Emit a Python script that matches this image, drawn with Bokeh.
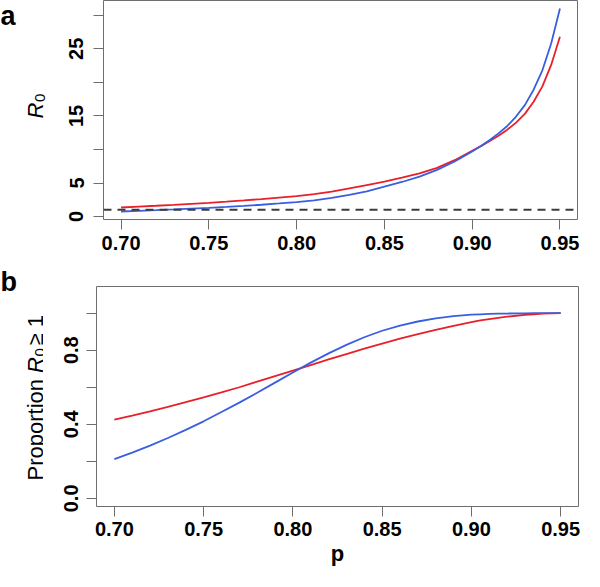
import math
from bokeh.plotting import figure
from bokeh.models import Range1d, FixedTicker, PrintfTickFormatter, BasicTickFormatter, Span
from bokeh.core.properties import value
from bokeh.layouts import column, row
from bokeh.embed import file_html
from bokeh.resources import INLINE

# ---------------- data ----------------
p_values = [0.70, 0.71, 0.72, 0.73, 0.74, 0.75, 0.76, 0.77, 0.78, 0.79,
            0.80, 0.81, 0.82, 0.83, 0.84, 0.85, 0.86, 0.87, 0.88, 0.89,
            0.90, 0.905, 0.91, 0.915, 0.92, 0.925, 0.93, 0.935, 0.94, 0.945, 0.95]

r0_red = [1.35, 1.48, 1.61, 1.75, 1.90, 2.05, 2.22, 2.40, 2.60, 2.82,
          3.05, 3.35, 3.70, 4.20, 4.70, 5.20, 5.80, 6.45, 7.25, 8.40,
          9.80, 10.5, 11.25, 12.05, 12.95, 14.0, 15.3, 17.1, 19.4, 22.6, 26.8]
r0_blue = [0.75, 0.85, 0.95, 1.06, 1.18, 1.30, 1.44, 1.59, 1.76, 1.95,
           2.16, 2.42, 2.78, 3.22, 3.76, 4.45, 5.15, 5.95, 6.95, 8.20,
           9.70, 10.5, 11.4, 12.4, 13.5, 14.9, 16.6, 18.9, 21.8, 25.8, 31.0]

prop_red = [0.425, 0.447, 0.470, 0.494, 0.519, 0.545, 0.572, 0.600, 0.630, 0.660,
            0.690, 0.720, 0.750, 0.779, 0.808, 0.836, 0.862, 0.887, 0.910, 0.932,
            0.952, 0.961, 0.968, 0.975, 0.981, 0.986, 0.991, 0.994, 0.997, 0.999, 1.000]
prop_blue = [0.212, 0.247, 0.285, 0.326, 0.370, 0.416, 0.466, 0.517, 0.570, 0.625,
             0.680, 0.733, 0.783, 0.829, 0.870, 0.905, 0.933, 0.955, 0.972, 0.984,
             0.992, 0.994, 0.996, 0.997, 0.998, 0.999, 0.999, 1.000, 1.000, 1.000, 1.000]

threshold_r0 = 1

x_ticks = [0.70, 0.75, 0.80, 0.85, 0.90, 0.95]
r0_labeled_ticks = [0, 5, 15, 25]
r0_unlabeled_ticks = [10, 20, 30]
prop_labeled_ticks = [0.0, 0.4, 0.8]
prop_unlabeled_ticks = [0.2, 0.6, 1.0]

panel_letters = ["a", "b"]
r0_label_parts = ["R", "0"]
prop_label_parts = ["Proportion", "R", "0", "\u2265 1"]
x_label = "p"

RED = "#e8202a"
BLUE = "#3a5ee0"
GRAY = "#6e6e6e"
FONT = "Liberation Sans"


def style(p, xstandoff, ystandoff):
    p.xgrid.visible = False
    p.ygrid.visible = False
    p.outline_line_color = GRAY
    p.outline_line_width = 1
    p.background_fill_color = "white"
    p.border_fill_color = "white"
    for ax in (p.xaxis[0], p.yaxis[0]):
        ax.axis_line_color = None
        ax.major_tick_in = 0
        ax.major_tick_out = 10
        ax.minor_tick_in = 0
        ax.minor_tick_out = 10
        ax.major_tick_line_color = GRAY
        ax.minor_tick_line_color = GRAY
        ax.major_label_text_font = FONT
        ax.major_label_text_font_style = "bold"
        ax.major_label_text_font_size = "20px"
        ax.major_label_text_color = "black"
    p.xaxis[0].major_label_standoff = xstandoff
    p.yaxis[0].major_label_orientation = "vertical"
    p.yaxis[0].major_label_standoff = ystandoff


def make_strip(width, height):
    s = figure(width=width, height=height, output_backend="svg", toolbar_location=None,
               title=None, x_axis_type=None, y_axis_type=None, frame_align=False,
               x_range=Range1d(0, width), y_range=Range1d(0, height),
               min_border_left=0, min_border_right=0, min_border_top=0, min_border_bottom=0)
    s.outline_line_color = None
    s.xgrid.visible = False
    s.ygrid.visible = False
    return s


# ---------------- label strip, panel a (page x 8..58, y 8..275) ----------------
strip_a = make_strip(50, 267)
strip_a.text(x=[0], y=[252], text=[panel_letters[0]], text_font=value(FONT),
             text_font_style="bold", text_font_size="27px", text_align="left",
             text_baseline="alphabetic", text_color="black")
strip_a.text(x=[35], y=[149], text=[r0_label_parts[0]], angle=math.pi / 2,
             text_font=value(FONT), text_font_style="italic", text_font_size="22px",
             text_align="left", text_baseline="alphabetic", text_color="black")
strip_a.text(x=[39], y=[165.4], text=[r0_label_parts[1]], angle=math.pi / 2,
             text_font=value(FONT), text_font_size="15px",
             text_align="left", text_baseline="alphabetic", text_color="black")

# ---------------- label strip, panel b (page x 8..51, y 275..579) ----------------
strip_b = make_strip(43, 304)
strip_b.text(x=[0], y=[290], text=[panel_letters[1]], text_font=value(FONT),
             text_font_style="bold", text_font_size="27px", text_align="left",
             text_baseline="alphabetic", text_color="black")
strip_b.text(x=[35, 35], y=[91, 226], text=[prop_label_parts[0], prop_label_parts[3]],
             angle=math.pi / 2, text_font=value(FONT), text_font_size="22px",
             text_align="left", text_baseline="alphabetic", text_color="black")
strip_b.text(x=[35], y=[198.6], text=[prop_label_parts[1]], angle=math.pi / 2,
             text_font=value(FONT), text_font_style="italic", text_font_size="22px",
             text_align="left", text_baseline="alphabetic", text_color="black")
strip_b.text(x=[39], y=[215], text=[prop_label_parts[2]], angle=math.pi / 2,
             text_font=value(FONT), text_font_size="15px",
             text_align="left", text_baseline="alphabetic", text_color="black")

# ---------------- panel a ----------------
pa = figure(width=534, height=267, output_backend="svg", toolbar_location=None, title=None,
            frame_align=False,
            x_range=Range1d(0.69, 0.96), y_range=Range1d(-0.44, 32.2),
            min_border_left=53, min_border_right=7, min_border_top=0, min_border_bottom=48)
style(pa, 6, 10)
pa.xaxis[0].ticker = FixedTicker(ticks=x_ticks, minor_ticks=[])
pa.xaxis[0].formatter = PrintfTickFormatter(format="%.2f")
pa.yaxis[0].ticker = FixedTicker(ticks=r0_labeled_ticks, minor_ticks=r0_unlabeled_ticks)
pa.yaxis[0].formatter = BasicTickFormatter()

pa.add_layout(Span(location=threshold_r0, dimension="width", line_color="#3c3c3c",
                   line_width=2, line_dash="8 6"))
pa.line(p_values, r0_red, line_color=RED, line_width=1.8)
pa.line(p_values, r0_blue, line_color=BLUE, line_width=1.8)

# ---------------- panel b ----------------
pb = figure(width=541, height=304, output_backend="svg", toolbar_location=None, title=None,
            frame_align=False,
            x_range=Range1d(0.69, 0.96), y_range=Range1d(-0.044, 1.144),
            min_border_left=53, min_border_right=6, min_border_top=19, min_border_bottom=65)
style(pb, 5, 8)
pb.xaxis[0].ticker = FixedTicker(ticks=x_ticks, minor_ticks=[])
pb.xaxis[0].formatter = PrintfTickFormatter(format="%.2f")
pb.yaxis[0].ticker = FixedTicker(ticks=prop_labeled_ticks, minor_ticks=prop_unlabeled_ticks)
pb.yaxis[0].formatter = PrintfTickFormatter(format="%.1f")
pb.xaxis[0].axis_label = x_label
pb.xaxis[0].axis_label_text_font = FONT
pb.xaxis[0].axis_label_text_font_style = "bold"
pb.xaxis[0].axis_label_text_font_size = "22px"
pb.xaxis[0].axis_label_text_color = "black"
pb.xaxis[0].axis_label_standoff = 2

pb.line(p_values, prop_red, line_color=RED, line_width=1.8)
pb.line(p_values, prop_blue, line_color=BLUE, line_width=1.8)

layout = column(row(strip_a, pa), row(strip_b, pb))
open("out.html", "w").write(file_html(layout, INLINE))
